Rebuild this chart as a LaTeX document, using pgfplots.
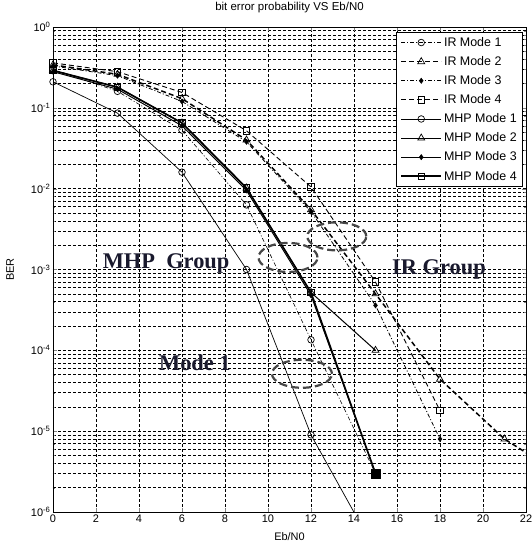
\documentclass[border=0pt]{standalone}
\usepackage{fontspec}
\setmainfont{Liberation Sans}
\newfontfamily\serifb{Liberation Serif}
\usepackage{pgfplots}
\pgfplotsset{compat=1.18}
\definecolor{anno}{RGB}{25,25,45}
\definecolor{ell}{RGB}{70,70,70}
\begin{document}
\begin{tikzpicture}
\begin{axis}[
  name=ax,
  scale only axis, width=473bp, height=485bp,
  xmin=0, xmax=22, ymin=1e-6, ymax=1,
  ymode=log,
  xtick={0,2,...,22},
  ytick={1e-6,1e-5,1e-4,1e-3,1e-2,1e-1,1},
  yticklabels={10\textsuperscript{-6},10\textsuperscript{-5},10\textsuperscript{-4},10\textsuperscript{-3},10\textsuperscript{-2},10\textsuperscript{-1},10\textsuperscript{0}},
  minor ytick={2e-6,3e-6,4e-6,5e-6,6e-6,7e-6,8e-6,9e-6,2e-5,3e-5,4e-5,5e-5,6e-5,7e-5,8e-5,9e-5,2e-4,3e-4,4e-4,5e-4,6e-4,7e-4,8e-4,9e-4,2e-3,3e-3,4e-3,5e-3,6e-3,7e-3,8e-3,9e-3,2e-2,3e-2,4e-2,5e-2,6e-2,7e-2,8e-2,9e-2,0.2,0.3,0.4,0.5,0.6,0.7,0.8,0.9},
  /pgf/number format/assume math mode=true,
  tick label style={font=\fontsize{11}{12}\selectfont},
  xticklabel style={yshift=1bp},
  yticklabel style={xshift=1bp},
  grid=both,
  major grid style={black, line width=0.45bp, dash pattern=on 3bp off 2bp},
  minor grid style={black, line width=0.45bp, dash pattern=on 3bp off 2bp},
  tick align=inside,
  major tick length=4bp, minor tick length=2.5bp,
  axis line style={black, line width=0.6bp},
  title={bit error probability VS Eb/N0},
  title style={font=\fontsize{11.5}{13}\selectfont, at={(axis description cs:0.5,1)}, anchor=center, yshift=13bp},
  xlabel={Eb/N0},
  ylabel={BER},
  label style={font=\fontsize{11}{12}\selectfont},
  xlabel style={at={(axis description cs:0.5,0)}, anchor=center, yshift=-25bp},
  ylabel style={at={(axis description cs:0,0.5)}, anchor=center, yshift=43bp},
  legend cell align=left,
  legend style={font=\fontsize{12.5}{13.5}\selectfont, draw=black, line width=0.6bp,
    at={(1,1)}, anchor=north east, xshift=-3bp, yshift=-5bp,
    row sep=4.6bp, inner xsep=4bp, inner ysep=3bp},
  legend image code/.code={\draw[mark repeat=2,mark phase=2] plot coordinates {(0bp,0bp)(20bp,0bp)(40bp,0bp)};},
  every axis plot/.append style={black},
]
% IR Mode 1
\addplot[line width=0.6bp, dash pattern=on 4bp off 2bp on 1bp off 2bp, mark=o, mark size=3.3bp, mark options={solid, line width=0.7bp}]
 coordinates {(0,0.30)(3,0.16)(6,0.053)(9,0.0063)(12,1.35e-4)(15,3e-6)};
\addlegendentry{IR Mode 1}
% IR Mode 2
\addplot[line width=1.5bp, dash pattern=on 5bp off 3bp, mark=triangle, mark size=4bp, mark options={solid, line width=0.7bp}]
 coordinates {(0,0.34)(3,0.26)(6,0.13)(9,0.04)(12,0.0055)(15,5e-4)(18,4.4e-5)(21,8e-6)(24,2.5e-6)};
\addlegendentry{IR Mode 2}
% IR Mode 3
\addplot[line width=0.8bp, dash pattern=on 4bp off 2bp on 1bp off 2bp, mark=diamond*, mark size=2.6bp, mark options={solid, line width=0.5bp}]
 coordinates {(0,0.33)(3,0.25)(6,0.12)(9,0.038)(12,0.0052)(15,3.6e-4)(18,8e-6)};
\addlegendentry{IR Mode 3}
% IR Mode 4
\addplot[line width=0.9bp, dash pattern=on 5bp off 3bp, mark=square, mark size=3.3bp, mark options={solid, line width=0.8bp}]
 coordinates {(0,0.36)(3,0.28)(6,0.155)(9,0.052)(12,0.0105)(15,7e-4)(18,1.8e-5)};
\addlegendentry{IR Mode 4}
% MHP Mode 1
\addplot[line width=0.7bp, mark=o, mark size=3.3bp, mark options={line width=0.7bp}]
 coordinates {(0,0.21)(3,0.086)(6,0.016)(9,1e-3)(12,9e-6)(15,3.3e-7)};
\addlegendentry{MHP Mode 1}
% MHP Mode 2
\addplot[line width=1bp, mark=triangle, mark size=4bp, mark options={line width=0.7bp}]
 coordinates {(0,0.29)(3,0.18)(6,0.065)(9,0.0102)(12,5.2e-4)(15,1e-4)};
\addlegendentry{MHP Mode 2}
% MHP Mode 3
\addplot[line width=1bp, mark=diamond*, mark size=2.6bp, mark options={line width=0.5bp}]
 coordinates {(0,0.28)(3,0.17)(6,0.06)(9,0.0095)(12,4.8e-4)(15,3e-6)};
\addlegendentry{MHP Mode 3}
% MHP Mode 4
\addplot[line width=1.6bp, mark=square, mark size=3.3bp, mark options={line width=0.8bp}]
 coordinates {(0,0.29)(3,0.18)(6,0.065)(9,0.0102)(12,5.2e-4)(15,3e-6)};
\addlegendentry{MHP Mode 4}
\addplot[forget plot, only marks, mark=square*, mark size=4.3bp] coordinates {(15,3e-6)};
% annotations
\draw[ell, line width=2.2bp, dash pattern=on 8bp off 4bp] (axis cs:13.2,0.00257) ellipse [x radius=29.5bp, y radius=14bp];
\draw[ell, line width=2.2bp, dash pattern=on 8bp off 4bp] (axis cs:10.93,0.00141) ellipse [x radius=29.5bp, y radius=14.5bp];
\draw[ell, line width=2.2bp, dash pattern=on 8bp off 4bp] (axis cs:11.58,5.13e-5) ellipse [x radius=30bp, y radius=14bp];
\node[anno, font=\serifb\bfseries\fontsize{22.5}{25}\selectfont] at (axis cs:5.26,1.2e-3) {MHP\ \ Group};
\node[anno, font=\serifb\bfseries\fontsize{22.5}{25}\selectfont] at (axis cs:17.95,1.0e-3) {IR Group};
\node[anno, font=\serifb\bfseries\fontsize{22.5}{25}\selectfont] at (axis cs:6.6,7.1e-5) {Mode 1};
\end{axis}
\pgfresetboundingbox
\path[use as bounding box] ([shift={(-53bp,-35bp)}]ax.south west) rectangle ([shift={(6bp,27bp)}]ax.north east);
\end{tikzpicture}
\end{document}
